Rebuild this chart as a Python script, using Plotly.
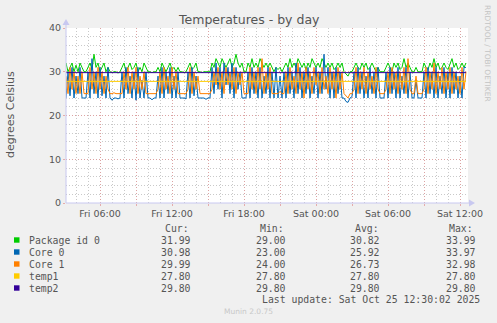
import plotly.graph_objects as go
import pandas as pd

# ---- data (10-minute samples, Fri 03:10 .. Sat 12:30) ----
start_time = "2025-10-24 03:10"
step = "10min"

package_id0 = [
    32, 30, 31, 32, 30, 31.5, 30, 32, 31,
    30, 30,
    31, 32, 30.5, 34, 31, 32, 30, 31, 32, 30, 31,
    30, 29.8, 30, 30, 29.7, 30,
    31, 32, 30, 31, 32, 30.5, 31, 32, 30, 31, 30, 32, 31,
    30, 30, 29.8, 30, 30,
    31, 30, 32, 31, 30, 31, 32, 30.5, 31, 30, 31,
    30, 30, 29.8, 30,
    31, 32, 30.5, 31, 32, 30,
    30, 29.8, 30, 30, 30, 30,
    32, 31, 33, 32, 31, 33, 32, 31, 32, 33, 31, 32, 34, 32, 31, 32,
    30, 30,
    32, 31, 33, 31, 32, 31, 33, 32, 31, 32, 31, 32,
    31, 30, 31, 30.5, 31, 30, 31,
    32, 31, 33, 31, 32, 31, 33, 32, 31, 32, 30.5, 32, 31, 33, 32, 31, 32, 31, 33, 32,
    31, 32, 31, 32, 30.5, 31, 32, 31, 32,
    30, 29.5, 29, 30, 30,
    31, 32, 31, 30.5, 32, 31, 32, 30.5, 31, 32, 31, 30, 31,
    30, 30, 30,
    31, 32, 31, 30, 32, 31, 32, 30.5, 31, 33, 31, 32, 31,
    30, 30, 31, 30, 30, 30,
    32, 31, 30.5, 32, 31, 33, 31, 32, 30.5, 31, 32, 31, 30.5, 32, 33, 31, 32, 30.5, 31, 32, 31, 32,
]

core0 = [
    24, 30, 24.5, 31, 24, 29, 25, 31, 24,
    24, 24,
    30, 24, 33, 25, 30, 24, 31, 24.5, 29, 24, 31,
    24, 23.5, 24, 24, 23.8, 24,
    30, 24, 31, 25, 29, 24, 30, 23.5, 31, 24, 28, 24, 30,
    24, 24, 23.6, 24, 24,
    29, 24, 31, 24, 30, 25, 31, 24, 29, 24, 30,
    24, 24, 24, 23.8,
    30, 24, 31, 24.5, 29, 24,
    24, 24, 24, 23.7, 24, 24,
    31, 25, 32, 26, 31, 24, 32, 27, 31, 25, 32, 24, 31, 26, 30, 24,
    24, 24,
    30, 24, 31, 25, 30, 24, 31, 24, 29, 25, 31, 24,
    30, 24, 31, 24, 29, 24, 30,
    24, 31, 25, 30, 24, 32, 25, 31, 24, 30, 25, 31, 24, 29, 25, 31, 24, 30, 25, 34,
    26, 31, 24, 30, 24, 31, 25, 30, 24,
    24, 23.2, 23, 24, 24.3,
    30, 24, 31, 25, 30, 24, 29, 24, 31, 25, 30, 24, 31,
    24, 24, 24,
    30, 24, 31, 25, 30, 24, 31, 24, 29, 25, 31, 24, 30,
    24, 24, 28, 24, 24, 24,
    30, 24, 31, 25, 30, 24, 31, 24, 29, 25, 31, 24, 30, 24, 31, 25, 30, 24, 29, 24, 31, 31,
]

core1 = [
    29, 25, 31, 26, 30, 25, 29, 25, 30,
    25, 25,
    25, 31, 26, 30, 25, 31, 26, 30, 25, 29, 26,
    25, 25, 25.2, 25, 25, 25,
    25, 30, 26, 31, 25, 30, 26, 31, 25, 29, 26, 30, 25,
    25, 25, 25, 25, 25,
    26, 30, 25, 31, 26, 29, 25, 31, 26, 30, 25,
    25, 25, 25, 25,
    26, 31, 25, 30, 26, 29,
    25, 25, 25, 25, 25, 25,
    26, 30, 27, 31, 26, 30, 25, 31, 27, 30, 26, 31, 25, 30, 27, 30,
    25, 25,
    25, 31, 26, 30, 25, 31, 26, 33, 25, 30, 26, 31,
    25, 25, 25, 25, 25.5, 25, 25,
    30, 25, 31, 26, 29, 25, 32, 26, 30, 24, 31, 26, 30, 25, 31, 27, 30, 25, 31, 26,
    29, 25, 31, 26, 30, 24, 31, 26, 30,
    25, 24.5, 24, 25, 25,
    26, 31, 25, 30, 26, 31, 25, 30, 26, 29, 25, 31, 26,
    25, 25, 25,
    26, 30, 25, 31, 26, 30, 25, 30, 26, 31, 25, 33, 26,
    25, 25, 29, 25, 25, 25,
    26, 31, 25, 30, 26, 32, 25, 30, 26, 31, 25, 30, 26, 31, 25, 30, 26, 29, 25, 31, 26, 30,
]

temp1_value = 27.8
temp2_value = 29.8

series_names = ["Package id 0", "Core 0", "Core 1", "temp1", "temp2"]
series_colors = ["#00cc00", "#0066b3", "#ff8000", "#ffcc00", "#330099"]
cur_vals = ["31.99", "30.98", "29.99", "27.80", "29.80"]
min_vals = ["29.00", "23.00", "24.00", "27.80", "29.80"]
avg_vals = ["30.82", "25.92", "26.73", "27.80", "29.80"]
max_vals = ["33.99", "33.97", "32.98", "27.80", "29.80"]

x_tick_times = ["2025-10-24 06:00", "2025-10-24 12:00", "2025-10-24 18:00",
                "2025-10-25 00:00", "2025-10-25 06:00", "2025-10-25 12:00"]
x_tick_labels = ["Fri 06:00", "Fri 12:00", "Fri 18:00", "Sat 00:00", "Sat 06:00", "Sat 12:00"]
x_range = ["2025-10-24 03:10", "2025-10-25 12:40"]

# ---- figure ----
W, H = 497, 323
L, R, T, B = 66, 468, 28, 203

times = pd.date_range(start_time, periods=len(core0), freq=step)
temp1 = [temp1_value] * len(times)
temp2 = [temp2_value] * len(times)

fig = go.Figure()
for name, ys, col in zip(series_names, [package_id0, core0, core1, temp1, temp2], series_colors):
    fig.add_trace(go.Scatter(x=times, y=ys, mode="lines", name=name,
                             line=dict(color=col, width=1), hoverinfo="skip"))

# grid ticks every 3 hours, labels every 6 hours
grid_times = pd.date_range("2025-10-24 03:00", "2025-10-25 12:00", freq="3h")
label_map = dict(zip(pd.to_datetime(x_tick_times), x_tick_labels))
tick_text = [label_map.get(t, "") for t in grid_times]

red_grid = "rgba(225,150,150,0.75)"
grey_grid = "rgba(195,195,195,0.9)"
axis_col = "#c8c8f0"
txt_col = "#555555"
dots = "1px,2px"

fig.update_layout(
    width=W, height=H,
    margin=dict(l=L, r=W - R, t=T, b=H - B),
    paper_bgcolor="#f0f0f0", plot_bgcolor="#ffffff",
    showlegend=False,
    font=dict(family="DejaVu Sans", size=9.5, color=txt_col),
    xaxis=dict(
        type="date", range=x_range,
        tickmode="array", tickvals=list(grid_times), ticktext=tick_text,
        showgrid=True, gridcolor=red_grid, griddash=dots, gridwidth=1,
        ticks="outside", ticklen=2, tickcolor=red_grid,
        minor=dict(dtick=3600000, showgrid=True, gridcolor=grey_grid, griddash=dots, gridwidth=1),
        showline=False, zeroline=False,
        tickfont=dict(size=9.5, color=txt_col),
    ),
    yaxis=dict(
        range=[0, 40], tickmode="array", tickvals=[0, 10, 20, 30, 40],
        showgrid=True, gridcolor=red_grid, griddash=dots, gridwidth=1,
        ticks="outside", ticklen=2, tickcolor=red_grid,
        minor=dict(dtick=2, showgrid=True, gridcolor=grey_grid, griddash=dots, gridwidth=1),
        showline=False, zeroline=False,
        tickfont=dict(size=9.5, color=txt_col),
    ),
)


def px(xp):
    return (xp - L) / (R - L)


def py(yp):
    return (B - yp) / (B - T)


shapes = []
shapes.append(dict(type="line", xref="paper", yref="paper", x0=0, x1=px(471), y0=0, y1=0,
                   line=dict(color=axis_col, width=1)))
shapes.append(dict(type="line", xref="paper", yref="paper", x0=0, x1=0, y0=0, y1=py(22),
                   line=dict(color=axis_col, width=1)))
shapes.append(dict(type="path", xref="paper", yref="paper",
                   path=f"M {px(469)} {py(199.5)} L {px(475)} {py(203)} L {px(469)} {py(206.5)} Z",
                   fillcolor=axis_col, line=dict(width=0)))
shapes.append(dict(type="path", xref="paper", yref="paper",
                   path=f"M {px(62.5)} {py(25)} L {px(66)} {py(19)} L {px(69.5)} {py(25)} Z",
                   fillcolor=axis_col, line=dict(width=0)))

ann = []
ann.append(dict(text="Temperatures - by day", x=px(248.5), y=py(19), xref="paper", yref="paper",
                showarrow=False, xanchor="center", yanchor="middle",
                font=dict(family="DejaVu Sans", size=12.5, color=txt_col)))
ann.append(dict(text="degrees Celsius", x=px(10), y=py(115), xref="paper", yref="paper",
                showarrow=False, textangle=-90, xanchor="center", yanchor="middle",
                font=dict(family="DejaVu Sans", size=11, color=txt_col)))
ann.append(dict(text="RRDTOOL / TOBI OETIKER", x=px(488), y=py(53), xref="paper", yref="paper",
                showarrow=False, textangle=90, xanchor="center", yanchor="middle",
                font=dict(family="DejaVu Sans", size=7.5, color="#c4c4c4")))

mono = dict(family="DejaVu Sans Mono", size=9.8, color=txt_col)


def txt(s, xpix, ypix, anchor="left", font=mono):
    ann.append(dict(text=s, x=px(xpix), y=py(ypix), xref="paper", yref="paper",
                    showarrow=False, xanchor=anchor, yanchor="middle", font=font))


txt("Cur:", 163, 228.5)
txt("Min:", 258, 228.5)
txt("Avg:", 352.5, 228.5)
txt("Max:", 446.5, 228.5)
row_y = [240, 252, 264, 276, 288]
for i, name in enumerate(series_names):
    y0 = row_y[i]
    shapes.append(dict(type="rect", xref="paper", yref="paper",
                       x0=px(14), x1=px(19.5), y0=py(y0 + 2.7), y1=py(y0 - 2.7),
                       fillcolor=series_colors[i], line=dict(width=0)))
    txt(name, 26.5, y0)
    txt(cur_vals[i], 192.5, y0, anchor="right")
    txt(min_vals[i], 287.5, y0, anchor="right")
    txt(avg_vals[i], 381.5, y0, anchor="right")
    txt(max_vals[i], 477.5, y0, anchor="right")

txt("Last update: Sat Oct 25 12:30:02 2025", 482, 299.5, anchor="right")
txt("Munin 2.0.75", 248.5, 311.5, anchor="center",
    font=dict(family="DejaVu Sans", size=7.5, color="#c8c8c8"))

fig.update_layout(shapes=shapes, annotations=ann)
fig.write_html("out.html")
